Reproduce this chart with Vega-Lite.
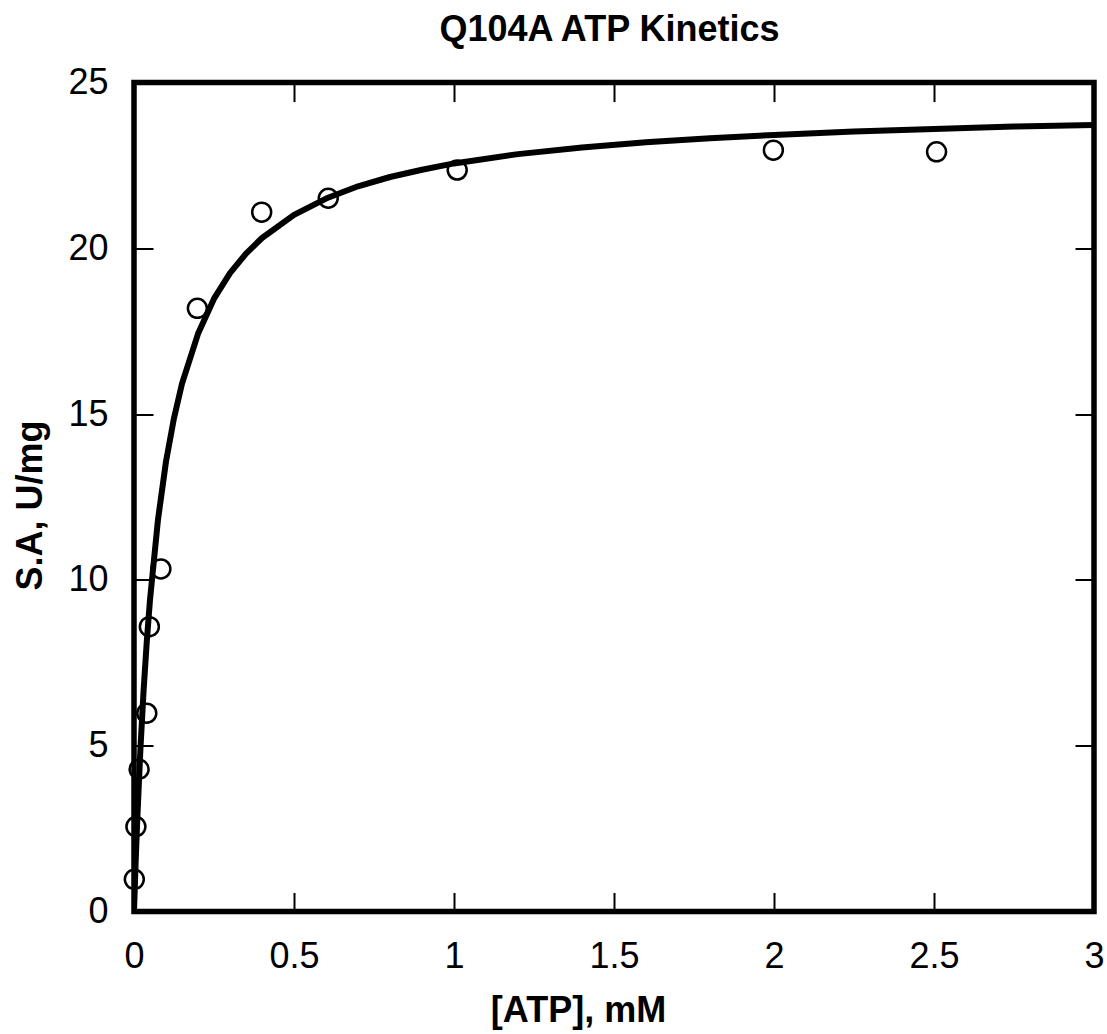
{
  "$schema": "https://vega.github.io/schema/vega-lite/v6.json",
  "autosize": "none",
  "width": 960,
  "height": 829,
  "padding": {"left": 134, "top": 82.5, "right": 13, "bottom": 122.5},
  "background": "white",
  "config": {
    "view": {"stroke": "black", "strokeWidth": 5.5},
    "axis": {
      "domain": false,
      "grid": false,
      "tickColor": "black",
      "tickWidth": 2,
      "tickSize": -19,
      "labelFont": "Liberation Sans",
      "labelFontSize": 36,
      "labelColor": "black",
      "labelFlush": false,
      "labelOverlap": false,
      "titleFont": "Liberation Sans",
      "titleFontSize": 36,
      "titleFontWeight": "bold",
      "titleColor": "black"
    }
  },
  "datasets": {
    "obs": [
      {"conc": 0.001, "sa": 0.97},
      {"conc": 0.006, "sa": 2.56},
      {"conc": 0.016, "sa": 4.29},
      {"conc": 0.040, "sa": 5.98},
      {"conc": 0.048, "sa": 8.59},
      {"conc": 0.084, "sa": 10.33},
      {"conc": 0.198, "sa": 18.19},
      {"conc": 0.399, "sa": 21.09},
      {"conc": 0.607, "sa": 21.51},
      {"conc": 1.01, "sa": 22.36},
      {"conc": 1.998, "sa": 22.96},
      {"conc": 2.508, "sa": 22.91}
    ],
    "fit": [
      {"conc": 0, "sa": 0},
      {"conc": 0.005, "sa": 1.44},
      {"conc": 0.01, "sa": 2.72},
      {"conc": 0.02, "sa": 4.89},
      {"conc": 0.03, "sa": 6.67},
      {"conc": 0.04, "sa": 8.15},
      {"conc": 0.05, "sa": 9.40},
      {"conc": 0.075, "sa": 11.82},
      {"conc": 0.1, "sa": 13.57},
      {"conc": 0.125, "sa": 14.88},
      {"conc": 0.15, "sa": 15.92},
      {"conc": 0.2, "sa": 17.42},
      {"conc": 0.25, "sa": 18.48},
      {"conc": 0.3, "sa": 19.25},
      {"conc": 0.35, "sa": 19.84},
      {"conc": 0.4, "sa": 20.31},
      {"conc": 0.5, "sa": 21.01},
      {"conc": 0.6, "sa": 21.50},
      {"conc": 0.7, "sa": 21.87},
      {"conc": 0.8, "sa": 22.15},
      {"conc": 0.9, "sa": 22.37},
      {"conc": 1.0, "sa": 22.56},
      {"conc": 1.2, "sa": 22.84},
      {"conc": 1.4, "sa": 23.04},
      {"conc": 1.6, "sa": 23.20},
      {"conc": 1.8, "sa": 23.32},
      {"conc": 2.0, "sa": 23.42},
      {"conc": 2.25, "sa": 23.52},
      {"conc": 2.5, "sa": 23.60},
      {"conc": 2.75, "sa": 23.67},
      {"conc": 3.0, "sa": 23.72}
    ]
  },
  "layer": [
    {
      "data": {"name": "obs"},
      "mark": {"type": "point", "shape": "circle", "filled": false, "stroke": "black", "strokeWidth": 2.5, "size": 360, "opacity": 1},
      "encoding": {
        "x": {
          "field": "conc", "type": "quantitative",
          "scale": {"domain": [0, 3], "nice": false, "zero": false},
          "axis": {
            "orient": "bottom",
            "values": [0, 0.5, 1, 1.5, 2, 2.5, 3],
            "format": "~g",
            "labelPadding": 47,
            "title": "[ATP], mM",
            "titleX": 444,
            "titleY": 109.5,
            "titleAlign": "center",
            "titleBaseline": "alphabetic",
            "titleAngle": 0
          }
        },
        "y": {
          "field": "sa", "type": "quantitative",
          "scale": {"domain": [0, 25], "nice": false, "zero": false},
          "axis": {
            "orient": "left",
            "values": [0, 5, 10, 15, 20, 25],
            "format": "~g",
            "labelPadding": 45,
            "title": "S.A, U/mg",
            "titleX": -93,
            "titleY": 422.5,
            "titleAlign": "center",
            "titleBaseline": "alphabetic",
            "titleAngle": 270
          }
        }
      }
    },
    {
      "data": {"name": "fit"},
      "mark": {"type": "line", "color": "black", "strokeWidth": 6, "strokeJoin": "round", "clip": true},
      "encoding": {
        "x": {
          "field": "conc", "type": "quantitative",
          "scale": {"domain": [0, 3], "nice": false, "zero": false},
          "axis": {
            "orient": "top",
            "values": [0.5, 1, 1.5, 2, 2.5],
            "labels": false,
            "title": "Q104A ATP Kinetics",
            "titleX": 475,
            "titleY": -42.5,
            "titleAlign": "center",
            "titleBaseline": "alphabetic",
            "titleAngle": 0
          }
        },
        "y": {
          "field": "sa", "type": "quantitative",
          "scale": {"domain": [0, 25], "nice": false, "zero": false},
          "axis": {"orient": "right", "values": [5, 10, 15, 20], "labels": false, "title": null}
        }
      }
    }
  ],
  "resolve": {"axis": {"x": "independent", "y": "independent"}}
}
